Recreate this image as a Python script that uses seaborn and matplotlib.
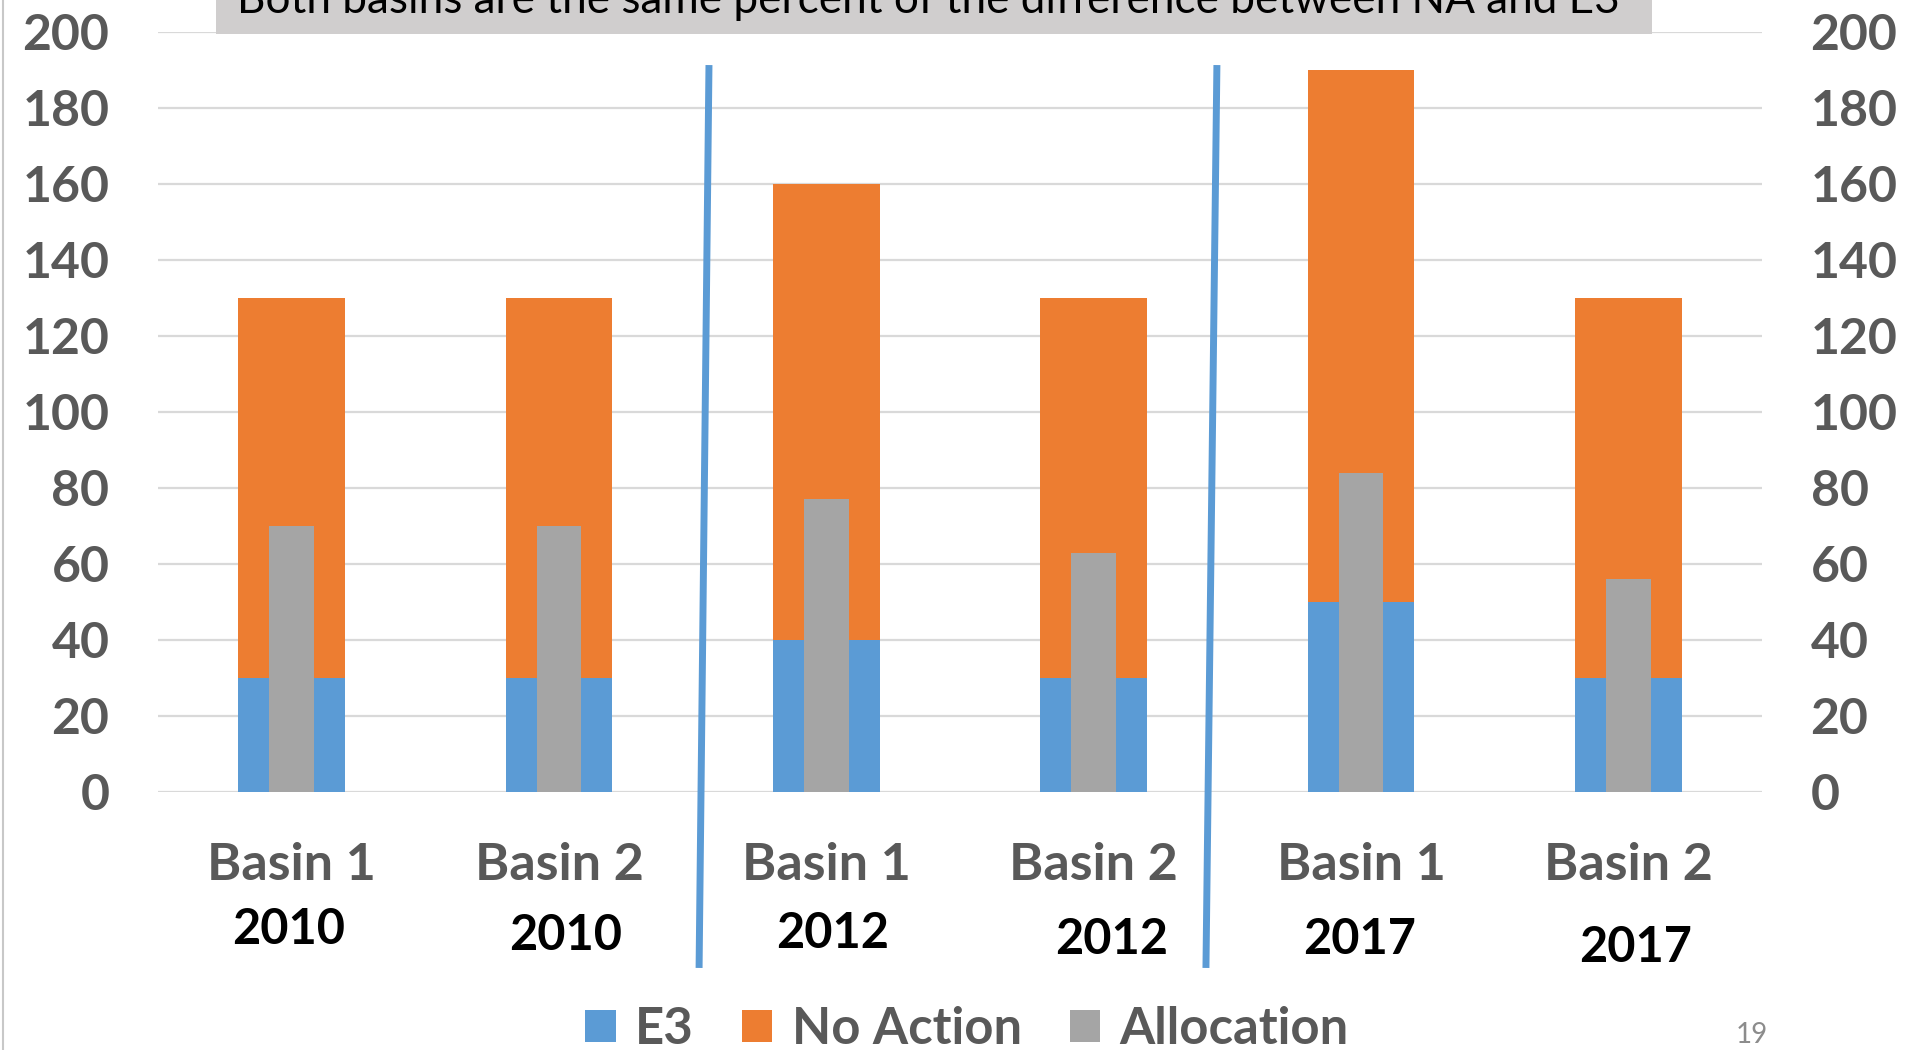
import matplotlib
matplotlib.use("Agg")
import matplotlib.pyplot as plt
from matplotlib.lines import Line2D
from matplotlib.patches import Rectangle
from matplotlib.transforms import blended_transform_factory
import seaborn as sns
import pandas as pd

# ---- data -------------------------------------------------------------
basins = ["Basin 1", "Basin 2", "Basin 1", "Basin 2", "Basin 1", "Basin 2"]
years = ["2010", "2010", "2012", "2012", "2017", "2017"]
e3 = [30, 30, 40, 30, 50, 30]
no_action = [130, 130, 160, 130, 190, 130]
allocation = [70, 70, 77, 63, 84, 56]
y_ticks = [0, 20, 40, 60, 80, 100, 120, 140, 160, 180, 200]
series_names = ["E3", "No Action", "Allocation"]
title_text = "Both basins are the same percent of the difference between NA and E3"
page_number = "19"

df = pd.DataFrame({
    "slot": [f"{b} {y}" for b, y in zip(basins, years)],
    "basin": basins,
    "year": years,
    "E3": e3,
    "No Action": no_action,
    "Allocation": allocation,
})

# ---- style ------------------------------------------------------------
sns.set_theme(style="white")
plt.rcParams["font.family"] = ["Lato", "DejaVu Sans"]

BLUE = "#5B9BD5"
ORANGE = "#ED7D31"
GRAY = "#A5A5A5"
TEXT_GRAY = "#595959"
GRID = "#D9D9D9"

W, H = 1905, 1050
fig = plt.figure(figsize=(W / 100, H / 100), dpi=100)
fig.patch.set_facecolor("white")

left_px, right_px, top_px, bottom_px = 158, 1762, 32, 792
ax = fig.add_axes([left_px / W, 1 - bottom_px / H,
                   (right_px - left_px) / W, (bottom_px - top_px) / H])

order = list(df["slot"])
sns.barplot(data=df, x="slot", y="No Action", order=order, color=ORANGE,
            saturation=1, width=0.40, linewidth=0, ax=ax, zorder=2)
sns.barplot(data=df, x="slot", y="E3", order=order, color=BLUE,
            saturation=1, width=0.40, linewidth=0, ax=ax, zorder=3)
sns.barplot(data=df, x="slot", y="Allocation", order=order, color=GRAY,
            saturation=1, width=0.167, linewidth=0, ax=ax, zorder=4)

ax.set_xlim(-0.5, len(order) - 0.5)
ax.set_ylim(0, 200)
ax.set_yticks(y_ticks)
ax.set_yticklabels([str(t) for t in y_ticks])
ax.set_xticks(range(len(order)))
ax.set_xticklabels(df["basin"])
ax.set_xlabel("")
ax.set_ylabel("")
for s in ax.spines.values():
    s.set_visible(False)
ax.yaxis.grid(True, color=GRID, linewidth=1.6, zorder=0)
ax.xaxis.grid(False)
ax.set_axisbelow(True)

ax.tick_params(axis="y", length=0, pad=35, labelsize=36, labelcolor=TEXT_GRAY,
               labelleft=True, labelright=True)
ax.tick_params(axis="x", length=0, pad=36, labelsize=37.5, labelcolor=TEXT_GRAY)
for lbl in ax.get_yticklabels() + ax.get_xticklabels():
    lbl.set_fontweight("bold")

# year captions under each basin label
xdata_yfig = blended_transform_factory(ax.transData, fig.transFigure)
year_dx = [-0.01, 0.026, 0.022, 0.067, -0.007, 0.026]
year_y_px = [930, 935, 934, 940, 940, 947]
for i, yr in enumerate(df["year"]):
    ax.text(i + year_dx[i], 1 - year_y_px[i] / H, yr, transform=xdata_yfig,
            ha="center", va="center", fontsize=35, fontweight="bold",
            color="black", clip_on=False)

# slanted dividers between the year groups
for (x_top, x_bot) in [(1.561, 1.524), (3.461, 3.420)]:
    ax.plot([x_top, x_bot], [191.3, -46.3], color=BLUE, linewidth=5,
            clip_on=False, zorder=5, solid_capstyle="butt")

# banner across the top
fig.patches.append(Rectangle((216 / W, 1 - 34 / H), (1652 - 216) / W, 34 / H,
                             transform=fig.transFigure, facecolor="#D0CECE",
                             edgecolor="none", zorder=1))
fig.text(928 / W, 1 - 13 / H, title_text, ha="center", va="baseline",
         fontsize=31.8, color="black", zorder=2)

# thin frame line at the left edge
fig.add_artist(Line2D([3 / W, 3 / W], [0, 1], transform=fig.transFigure,
                      color="#C8C8C8", linewidth=1.5))

# legend
handles = [Rectangle((0, 0), 1, 1, facecolor=c, edgecolor="none")
           for c in (BLUE, ORANGE, GRAY)]
leg = fig.legend(handles, series_names, loc="center",
                 bbox_to_anchor=(967 / W, 1 - 1029 / H), ncol=3, frameon=False,
                 handlelength=0.6, handleheight=0.6, handletextpad=0.38,
                 columnspacing=0.95, borderpad=0,
                 prop={"family": ["Lato", "DejaVu Sans"], "weight": "bold", "size": 36.5})
for t in leg.get_texts():
    t.set_color(TEXT_GRAY)

fig.text(1752 / W, 1 - 1035 / H, page_number, ha="center", va="center",
         fontsize=20, color="#8C8C8C")

fig.savefig("out.png", dpi=100)
